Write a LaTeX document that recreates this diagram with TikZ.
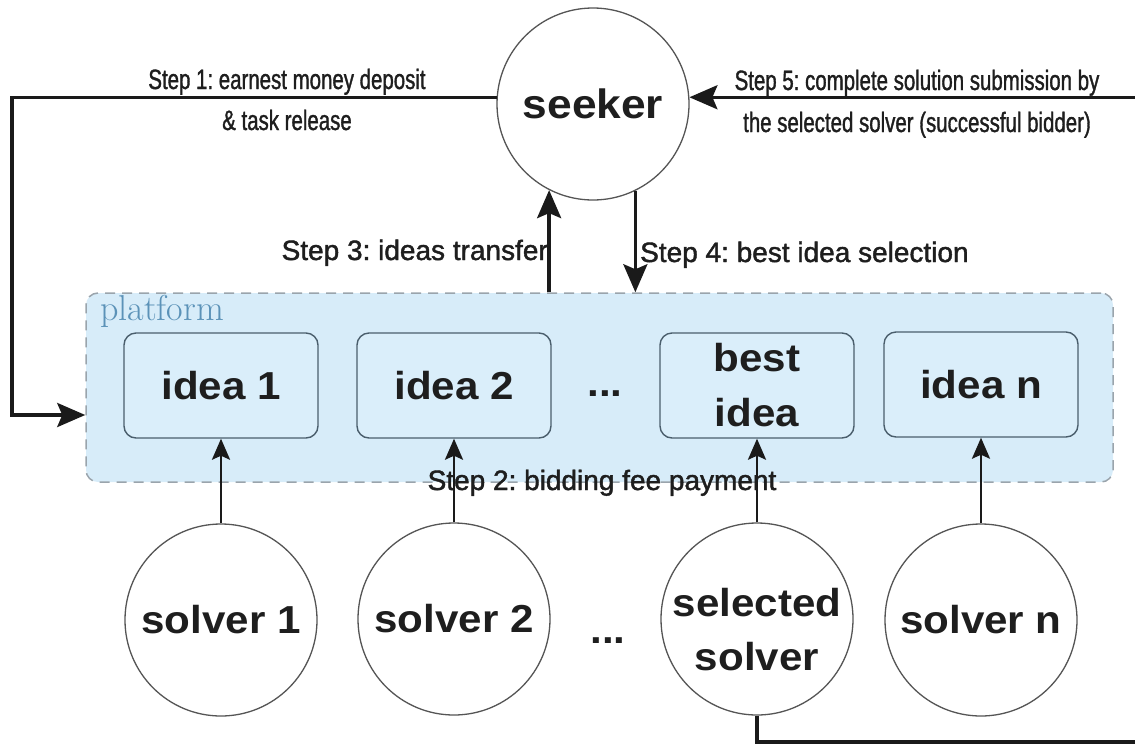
\documentclass[tikz,border=0pt]{standalone}
\usepackage{fontspec}
\usetikzlibrary{arrows.meta,calc}

\newfontfamily\nodefont{Liberation Sans}[FakeStretch=1.08]
\newfontfamily\stepfont{Liberation Sans}[FakeBold=1.5]
\newfontfamily\narrowfont{Liberation Sans}[FakeStretch=0.73,FakeBold=1.2]

\definecolor{txt}{HTML}{1E1E1E}
\definecolor{linec}{HTML}{1A1A1A}
\definecolor{circgray}{HTML}{555555}
\definecolor{boxedge}{HTML}{4A5E6C}
\definecolor{platfill}{HTML}{D7ECF9}
\definecolor{ideafill}{HTML}{DAEEFA}
\definecolor{dashgray}{HTML}{9AA4AC}
\definecolor{platc}{HTML}{5B92B8}

\tikzset{
  actor/.style={circle, draw=circgray, line width=1.3pt, fill=white,
    minimum size=192pt, inner sep=0pt, align=center, text=txt,
    font=\nodefont\bfseries\fontsize{39}{54}\selectfont},
  ideabox/.style={rectangle, rounded corners=12pt, draw=boxedge,
    line width=1.4pt, fill=ideafill, minimum width=194pt,
    minimum height=105pt, inner sep=0pt, align=center, text=txt,
    font=\nodefont\bfseries\fontsize{39}{55}\selectfont},
  platbox/.style={rectangle, rounded corners=12pt, draw=dashgray,
    line width=1.5pt, dash pattern=on 10pt off 7pt, fill=platfill,
    minimum width=1027pt, minimum height=189pt, inner sep=0pt},
  bigarrow/.style={draw=linec, line width=3.4pt,
    -{Stealth[length=28pt,width=24pt,inset=5pt]}},
  smallarrow/.style={draw=linec, line width=2.6pt,
    -{Stealth[length=21pt,width=18pt,inset=4pt]}},
  steplabel/.style={inner sep=0pt, text=txt,
    font=\stepfont\frenchspacing\fontsize{28}{34}\selectfont},
  narrowlabel/.style={inner sep=0pt, text=txt,
    font=\narrowfont\frenchspacing\fontsize{28}{34}\selectfont},
  dotslabel/.style={inner sep=0pt, text=txt,
    font=\nodefont\bfseries\fontsize{39}{47}\selectfont},
}

\begin{document}
\begin{tikzpicture}[x=1pt,y=-1pt]
  \useasboundingbox (0,0) rectangle (1135,745);
  \clip (0,0) rectangle (1135,745);

  % platform area with its ideas
  \node[platbox] (platform) at (599.5,387.5) {};
  \node[anchor=base west, inner sep=0pt, text=platc,
        font=\rmfamily\fontsize{36}{40}\selectfont] (platlabel) at (100,320) {platform};

  \node[ideabox] (idea1) at (221,385.5) {idea 1};
  \node[ideabox] (idea2) at (454,385.5) {idea 2};
  \node[ideabox] (best)  at (757,385.5) {best\\idea};
  \node[ideabox] (idean) at (981,384.5) {idea n};
  \node[dotslabel, anchor=base] (dotsA) at (605,396) {...};

  % actors
  \node[actor, font=\nodefont\bfseries\fontsize{41}{49}\selectfont] (seeker) at (593,104) {seeker};
  \node[actor] (solver1) at (221,620) {solver 1};
  \node[actor] (solver2) at (454,619) {solver 2};
  \node[actor] (sel)     at (757,619) {};
  \node[inner sep=0pt, align=center, text=txt,
        font=\nodefont\bfseries\fontsize{39}{54}\selectfont] (seltext)
        at ([yshift=-11pt]sel.center) {selected\\solver};
  \node[actor] (solvern) at (981,620) {solver n};
  \node[dotslabel, anchor=base] (dotsB) at (608,643) {...};

  % step 1: deposit and task release
  \coordinate (leftturn) at (12,415);
  \draw[bigarrow] (seeker.176) -| (leftturn) -- (platform.west |- leftturn);
  \node[narrowlabel, anchor=base] (s1a) at (287,89) {Step 1: earnest money deposit};
  \node[narrowlabel, anchor=base] (s1b) at (287,130) {\& task release};

  % step 2: bidding fees
  \draw[smallarrow] (solver1.north) -- (idea1.south);
  \draw[smallarrow] (solver2.north) -- (idea2.south);
  \draw[smallarrow] (sel.north) -- (best.south);
  \draw[smallarrow] (solvern.north) -- (idean.south);
  \node[steplabel, anchor=base] (s2) at (602,490) {Step 2: bidding fee payment};

  % step 3 and step 4
  \draw[bigarrow] (platform.north -| seeker.243) -- (seeker.243);
  \draw[bigarrow] (seeker.296) -- (platform.north -| seeker.296);
  \node[steplabel, anchor=base east] (s3) at (548,260) {Step 3: ideas transfer};
  \node[steplabel, anchor=base west] (s4) at (640,262) {Step 4: best idea selection};

  % step 5: solution submission, routed round the right side
  \coordinate (rightturn) at (1150,742);
  \draw[bigarrow] (sel.south) |- (rightturn) |- (seeker.4);
  \node[narrowlabel, anchor=base] (s5a) at (917,90) {Step 5: complete solution submission by};
  \node[narrowlabel, anchor=base] (s5b) at (917,132) {the selected solver (successful bidder)};
\end{tikzpicture}
\end{document}
